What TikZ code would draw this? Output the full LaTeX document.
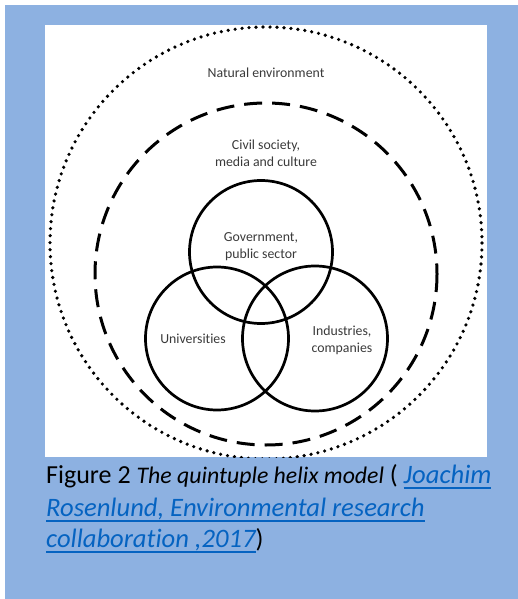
\documentclass[tikz,border=0pt]{standalone}
\usepackage{fontspec}
\setmainfont{Carlito}[Ligatures=NoCommon]
\definecolor{pageblue}{HTML}{8DB1E1}
\definecolor{linkblue}{HTML}{0563C1}
\definecolor{labelgrey}{HTML}{3A3A3A}
\newsavebox\linkbox
% italic blue text with a blue underline, as a hyperlink is shown
\newcommand\linktext[1]{\textcolor{linkblue}{\fontsize{26.6}{32}\selectfont\sbox\linkbox{\itshape #1}\rlap{\raisebox{-6pt}{\rule{\wd\linkbox}{1.9pt}}}\usebox\linkbox}}
\tikzset{
  ring/.style={draw=black, line width=2.7pt},
  civilring/.style={draw=black, line width=3pt, dash pattern=on 18pt off 10pt},
  naturering/.style={draw=black, line width=3.6pt, line cap=round, dash pattern=on 0pt off 7pt},
  label/.style={text=labelgrey, font=\fontsize{13.8}{17}\selectfont, align=center, inner sep=0pt},
  caption/.style={anchor=base west, inner sep=0pt, font=\fontsize{26}{32}\selectfont}
}
\begin{document}
\begin{tikzpicture}[x=1pt,y=-1pt]
  % page and framed background
  \fill[white] (0,0) rectangle (518,599);
  \fill[pageblue] (5,5) rectangle (518,599);
  \useasboundingbox (0,0) rectangle (518,599);
  % white panel holding the model
  \fill[white] (45,25) rectangle (487,457);
  \begin{scope}
    \clip (45,25) rectangle (487,457);
    % natural environment (dotted) and civil society (dashed)
    \draw[naturering] (266,243) circle[radius=216];
    \draw[civilring] (266,274) circle[radius=171];
    % the three helices
    \draw[ring] (261,252) circle[radius=71.5];
    \draw[ring] (217,338.5) circle[radius=71.5];
    \draw[ring] (315,338.5) circle[radius=72.5];
  \end{scope}
  % labels (base anchor sits on the last line)
  \node[label, anchor=base] (nat) at (266,78) {Natural environment};
  \node[label, anchor=base] (civ) at (266,166) {Civil society,\\media and culture};
  \node[label, anchor=base] (gov) at (261,258) {Government,\\public sector};
  \node[label, anchor=base] (uni) at (193,343) {Universities};
  \node[label, anchor=base] (ind) at (342,352) {Industries,\\companies};
  % caption
  \node[caption] (cap1) at (46,483) {Figure 2 {\fontsize{23.8}{32}\selectfont\itshape The quintuple helix model} ( \linktext{Joachim}};
  \node[caption] (cap2) at (46,516) {\linktext{Rosenlund, Environmental research}};
  \node[caption] (cap3) at (46,547) {\linktext{collaboration ,2017})};
\end{tikzpicture}
\end{document}
